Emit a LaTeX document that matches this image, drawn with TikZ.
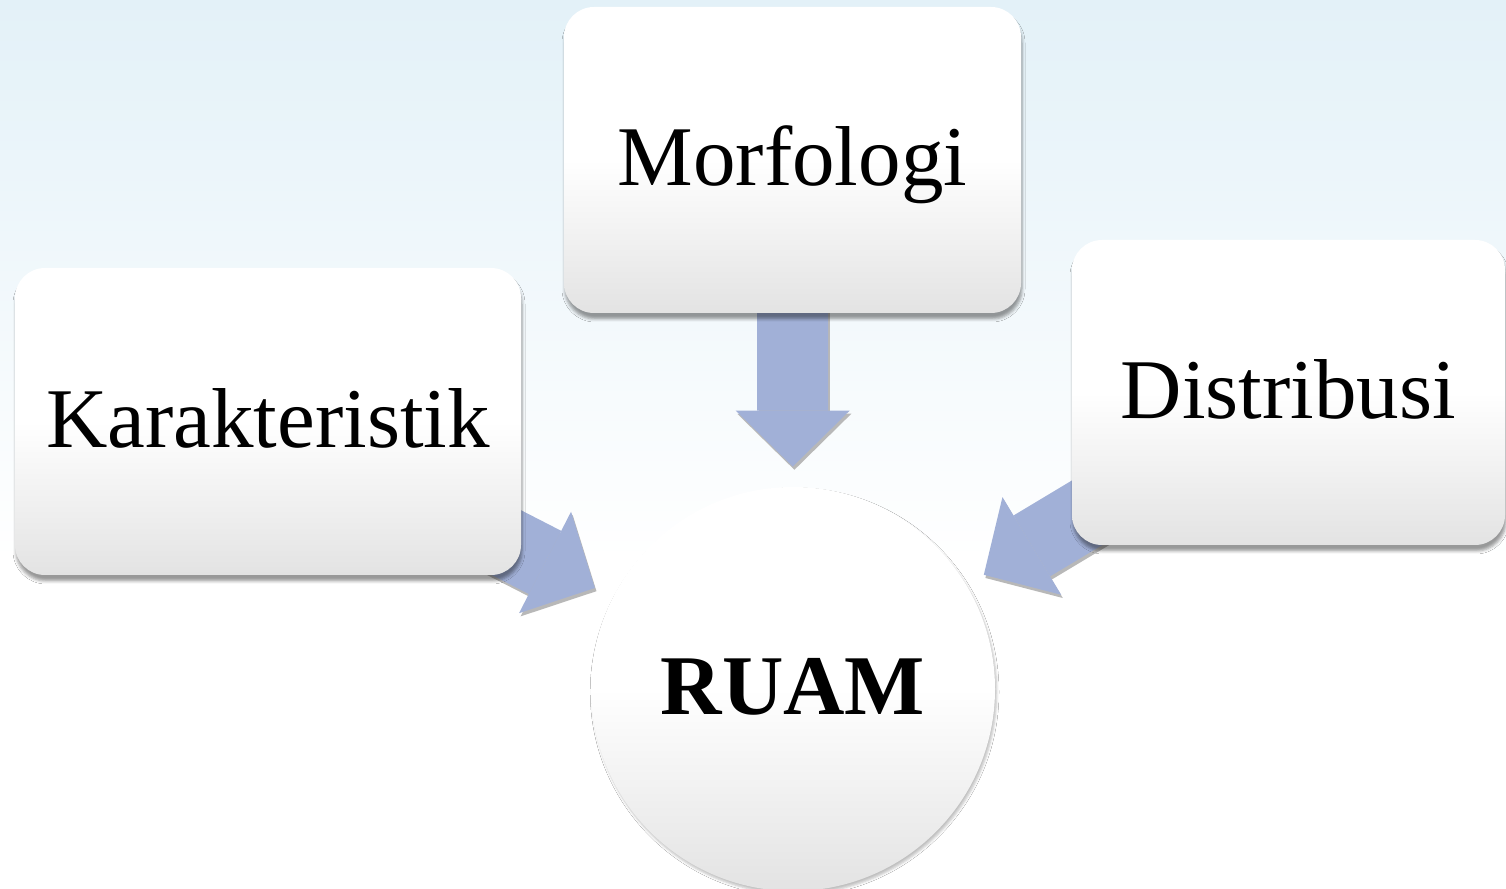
\documentclass[tikz,border=0pt]{standalone}
\usepackage{fontspec}
\setmainfont{Liberation Serif}
\usetikzlibrary{arrows.meta,shadows.blur}
\pgfdeclarelayer{back}
\pgfdeclarelayer{flow}
\pgfsetlayers{back,flow,main}
\definecolor{skytop}{RGB}{227,241,248}
\definecolor{flowblue}{RGB}{161,176,215}
\begin{document}
\begin{tikzpicture}[>={Triangle[width=57bp,length=28bp,line width=0pt]},line join=bevel,
  every node/.style={font=\fontsize{42.5bp}{50bp}\selectfont,inner sep=0pt},
  box/.style={rectangle,rounded corners=15bp,top color=white,bottom color=black!11,middle color=white,
    text height=30bp,text depth=4bp,
    blur shadow={shadow xshift=0.5bp,shadow yshift=-3bp,shadow blur radius=1.5bp,shadow opacity=40}},
  hub/.style={circle,minimum size=202bp,top color=white,bottom color=black!11,middle color=white,
    text height=30bp,text depth=4bp,font=\fontsize{42.5bp}{50bp}\selectfont\bfseries,
    blur shadow={shadow xshift=0.8bp,shadow yshift=-1.5bp,shadow blur radius=1.2bp,shadow opacity=25}},
  flow/.style={->,draw=flowblue,line width=35.5bp,shorten >=10bp,shorten <=-25bp},
  flowshade/.style={flow,draw=black!28,transform canvas={shift={(0.8bp,-1.6bp)}}},
]
\useasboundingbox (0bp,0bp) rectangle (753bp,444.5bp);
%%
\node (node_morf) at (396.25bp,364.5bp) [box,minimum width=228.5bp,minimum height=153bp] {Morfologi};
\node (node_karak) at (134bp,233.75bp) [box,minimum width=253bp,minimum height=153.5bp] {Karakteristik};
\node (node_dist) at (644.25bp,248.25bp) [box,minimum width=216.5bp,minimum height=152.5bp] {Distribusi};
\node (node_ruam) at (396.5bp,100bp) [hub] {RUAM};
%
\begin{pgfonlayer}{back}
  \fill [top color=skytop,bottom color=white] (0bp,164.5bp) rectangle (753bp,444.5bp);
  \fill [white] (0bp,0bp) rectangle (753bp,164.5bp);
\end{pgfonlayer}
\begin{pgfonlayer}{flow}
  \draw [flowshade] (node_morf) -- (node_ruam);
  \draw [flowshade] (node_karak) -- (node_ruam);
  \draw [flowshade] (node_dist) -- (node_ruam);
  \draw [flow] (node_morf) -- (node_ruam);
  \draw [flow] (node_karak) -- (node_ruam);
  \draw [flow] (node_dist) -- (node_ruam);
\end{pgfonlayer}
%
\end{tikzpicture}
\end{document}
